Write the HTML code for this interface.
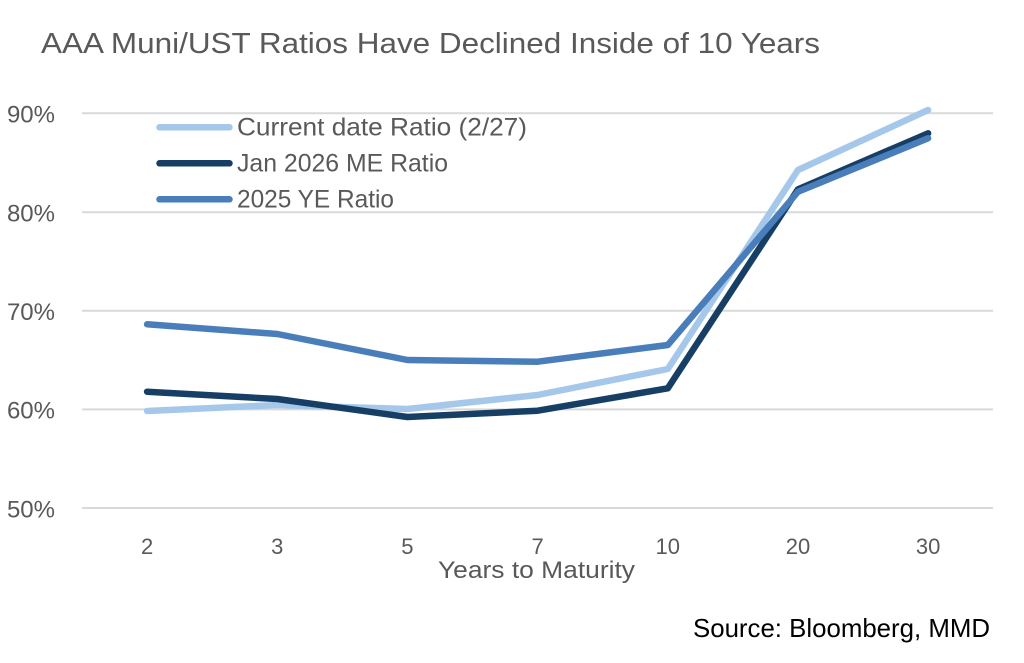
<!DOCTYPE html>
<html>
<head>
<meta charset="utf-8">
<style>
  html, body { margin:0; padding:0; background:#ffffff; }
  svg { display:block; }
  text { font-family: "Liberation Sans", sans-serif; }
</style>
</head>
<body>
<svg width="1024" height="663" viewBox="0 0 1024 663" xmlns="http://www.w3.org/2000/svg">
  <rect x="0" y="0" width="1024" height="663" fill="#ffffff"/>

  <!-- Title -->
  <text x="41" y="53" font-size="29" fill="#595959" textLength="779" lengthAdjust="spacingAndGlyphs">AAA Muni/UST Ratios Have Declined Inside of 10 Years</text>

  <!-- Gridlines -->
  <g stroke="#D9D9D9" stroke-width="2">
    <line x1="82" y1="113.3" x2="993" y2="113.3"/>
    <line x1="82" y1="212.2" x2="993" y2="212.2"/>
    <line x1="82" y1="310.8" x2="993" y2="310.8"/>
    <line x1="82" y1="409.4" x2="993" y2="409.4"/>
    <line x1="82" y1="508" x2="993" y2="508"/>
  </g>

  <!-- Y labels -->
  <g font-size="24" fill="#595959" text-anchor="end">
    <text x="55" y="122.5">90%</text>
    <text x="55" y="221.5">80%</text>
    <text x="55" y="320">70%</text>
    <text x="55" y="418.7">60%</text>
    <text x="55" y="517.3">50%</text>
  </g>

  <!-- X labels -->
  <g font-size="22" fill="#595959" text-anchor="middle">
    <text x="147.1" y="554">2</text>
    <text x="277.3" y="554">3</text>
    <text x="407.4" y="554">5</text>
    <text x="537.6" y="554">7</text>
    <text x="667.8" y="554">10</text>
    <text x="798" y="554">20</text>
    <text x="928.1" y="554">30</text>
  </g>
  <text x="536.5" y="578" font-size="24" fill="#595959" text-anchor="middle" textLength="197" lengthAdjust="spacingAndGlyphs">Years to Maturity</text>

  <!-- Series -->
  <g fill="none" stroke-width="6.5" stroke-linecap="round" stroke-linejoin="round">
    <polyline stroke="#A5C8EA" points="147.1,411 277.3,405 407.4,409 537.6,395 667.8,369 798,170 928.1,110"/>
    <polyline stroke="#173F66" points="147.1,391.7 277.3,399 407.4,417 537.6,410.7 667.8,388.3 798,189.3 928.1,133.3"/>
    <polyline stroke="#4A7EBB" points="147.1,324.3 277.3,334 407.4,360 537.6,361.7 667.8,345 798,191.7 928.1,138.3"/>
  </g>

  <!-- Legend -->
  <g stroke-width="6.5" stroke-linecap="round">
    <line x1="159.5" y1="127.3" x2="229.5" y2="127.3" stroke="#A5C8EA"/>
    <line x1="159.5" y1="163.3" x2="229.5" y2="163.3" stroke="#173F66"/>
    <line x1="159.5" y1="199.3" x2="229.5" y2="199.3" stroke="#4A7EBB"/>
  </g>
  <g font-size="25" fill="#595959">
    <text x="237" y="135.5" textLength="290" lengthAdjust="spacingAndGlyphs">Current date Ratio (2/27)</text>
    <text x="237" y="171.5" textLength="211" lengthAdjust="spacingAndGlyphs">Jan 2026 ME Ratio</text>
    <text x="237" y="207.5" textLength="157" lengthAdjust="spacingAndGlyphs">2025 YE Ratio</text>
  </g>

  <!-- Source -->
  <text x="693" y="637" font-size="26" fill="#000000" textLength="297" lengthAdjust="spacingAndGlyphs">Source: Bloomberg, MMD</text>
</svg>
</body>
</html>
